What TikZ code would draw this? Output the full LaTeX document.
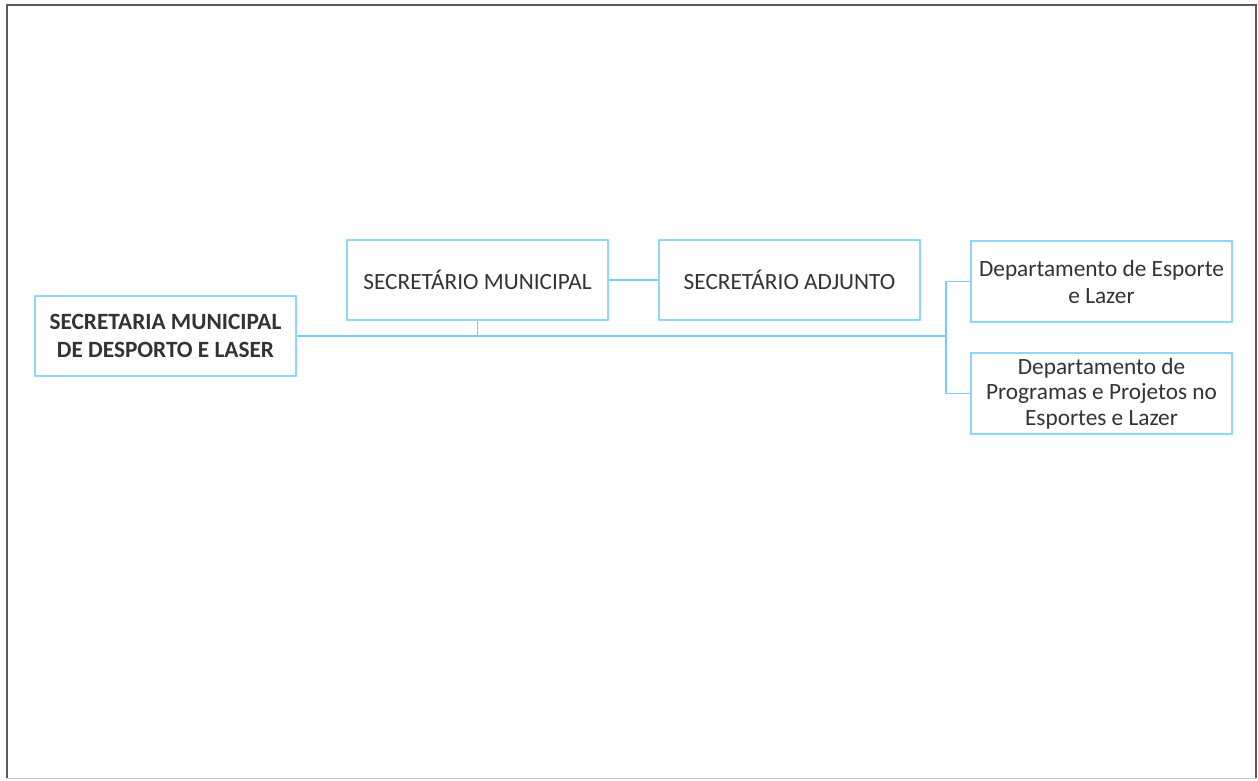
\documentclass[tikz,border=0pt]{standalone}
\usepackage{fontspec}
\setmainfont{Carlito}
\begin{document}
\begin{tikzpicture}[x=1pt,y=-1pt,
  frame/.style={draw=black!65,line width=2pt},
  orgbox/.style={draw=blue!35!cyan!45,line width=1.6pt,fill=white,minimum width=261pt,
    minimum height=80pt,inner sep=2pt,align=center,text=black!80,font=\fontsize{23.3}{27}\selectfont},
  link/.style={draw=blue!35!cyan!55,line width=1.6pt}]
\useasboundingbox (0,0) rectangle (1258,780);
% outer frame
\draw[frame] (7,778) -- (7,5) -- (1256,5) -- (1256,778);
\draw[black!20,line width=1pt] (7,778) -- (1256,778);
% boxes
\node[orgbox,font=\bfseries\fontsize{23.3}{28}\selectfont] (sec) at (165.5,336) {SECRETARIA MUNICIPAL\\DE DESPORTO E LASER};
\node[orgbox] (mun) at (477.5,280) {SECRETÁRIO MUNICIPAL};
\node[orgbox] (adj) at (789.5,280) {SECRETÁRIO ADJUNTO};
\node[orgbox,minimum height=81pt] (dep1) at (1101.5,281.5) {Departamento de Esporte\\e Lazer};
\node[orgbox,minimum height=81pt,font=\fontsize{23.3}{25.5}\selectfont] (dep2) at (1101.5,393.5) {Departamento de\\Programas e Projetos no\\Esportes e Lazer};
% connectors
\coordinate (bus) at (946,336);
\draw[link] (sec.east) -- (bus);
\draw[link] (mun.south) -- (mun.south |- bus);
\draw[link] (mun.east) -- (adj.west);
\draw[link] (dep1.west) -| (bus) |- (dep2.west);
\end{tikzpicture}
\end{document}
